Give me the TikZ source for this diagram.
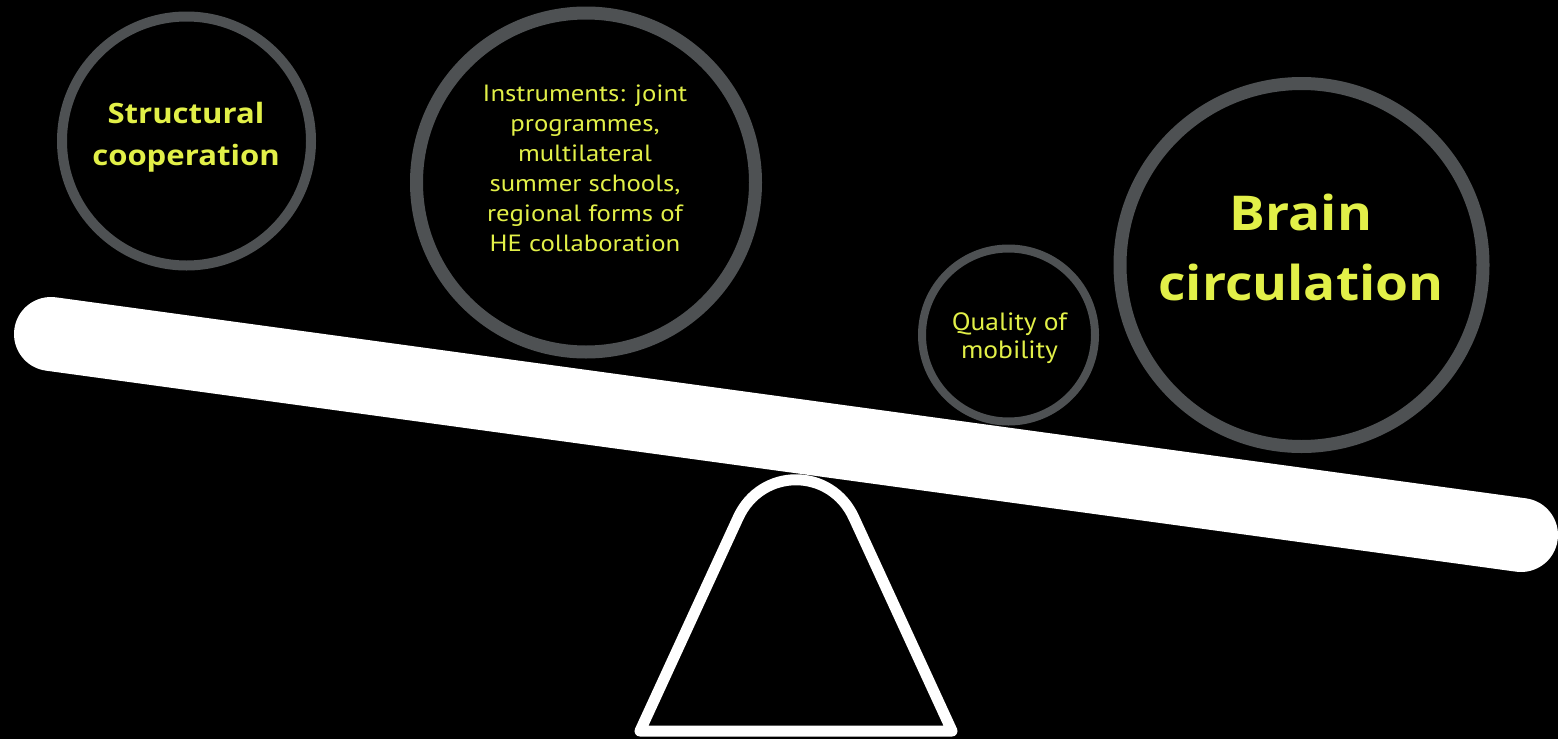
\documentclass[tikz,border=0pt]{standalone}
\usepackage{fontspec}
\setmainfont{Open Sans}[FakeStretch=1.11]
\newfontfamily\lightf{PT Sans}[FakeStretch=1.14]
\newfontfamily\lightq{PT Sans}[FakeStretch=1.1]
\definecolor{ringgray}{RGB}{78,81,83}
\definecolor{txtyellow}{RGB}{226,240,72}
\tikzset{
  ring/.style={circle, draw=ringgray, inner sep=0pt, outer sep=0pt},
  boldlabel/.style={text=txtyellow, align=center, inner sep=0pt, font=\bfseries},
  lightlabel/.style={text=txtyellow, align=center, inner sep=0pt, font=\lightf},
  plank/.style={draw=white, line width=74pt, line cap=round},
  fulcrum/.style={draw=white, line width=11pt, line join=round}
}
\begin{document}
\begin{tikzpicture}[x=1pt,y=-1pt]
\fill[black] (0,0) rectangle (1558,739);
\useasboundingbox (0,0) rectangle (1558,739);

% fulcrum
\draw[fulcrum] (640,731) -- (738,518) .. controls (761,467) and (831,467) .. (854,518) -- (952,731) -- cycle;

% plank
\coordinate (pl) at (51,334);
\coordinate (pr) at (1521,535);
\draw[plank] (pl) -- (pr);

% circles
\node[ring, line width=10pt, minimum size=249pt] (c1) at (186.5,141) {};
\node[ring, line width=13pt, minimum size=339pt] (c2) at (586,182.5) {};
\node[ring, line width=8pt, minimum size=173pt] (c3) at (1008.5,335) {};
\node[ring, line width=13pt, minimum size=363pt] (c4) at (1301.5,265) {};

% texts
\node[boldlabel, font=\bfseries\fontsize{28}{42}\selectfont] (t1) at (186,137) {Structural\\cooperation};
\node[lightlabel, font=\lightf\fontsize{23.5}{30}\selectfont] (t2) at (585,168) {Instruments: joint\\programmes,\\multilateral\\summer schools,\\regional forms of\\HE collaboration};
\node[lightlabel, font=\lightq\fontsize{25}{28}\selectfont] (t3) at (1009.5,338.5) {Quality of\\mobility};
\node[boldlabel, font=\bfseries\fontsize{48}{70}\selectfont] (t4) at (1301,247.5) {Brain\\circulation};
\end{tikzpicture}
\end{document}
